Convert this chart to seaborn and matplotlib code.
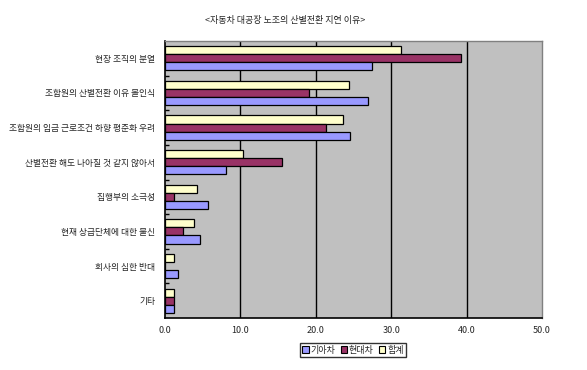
import matplotlib
matplotlib.use("Agg")
import matplotlib.pyplot as plt
from matplotlib.patches import Patch
from matplotlib.ticker import FixedLocator, FormatStrFormatter
import seaborn as sns
import pandas as pd

# reasons (top to bottom)
reasons = [
    "현장 조직의 분열",
    "조합원의 산별전환 이유 몰인식",
    "조합원의 임금 근로조건 하향 평준화 우려",
    "산별전환 해도 나아질 것 같지 않아서",
    "집행부의 소극성",
    "현재 상급단체에 대한 불신",
    "회사의 심한 반대",
    "기타",
]
total = [31.3, 24.4, 23.6, 10.4, 4.2, 3.8, 1.2, 1.2]
hyundai = [39.3, 19.1, 21.4, 15.5, 1.2, 2.4, 0.0, 1.2]
kia = [27.4, 26.9, 24.6, 8.1, 5.7, 4.6, 1.7, 1.2]

series = ["합계", "현대차", "기아차"]
colors = {"합계": "#FFFFCC", "현대차": "#993366", "기아차": "#9999FF"}

df = pd.DataFrame({
    "reason": reasons * 3,
    "series": ["합계"] * 8 + ["현대차"] * 8 + ["기아차"] * 8,
    "value": total + hyundai + kia,
})

sns.set_style("white")
plt.rcParams["font.family"] = ["Noto Sans CJK KR", "DejaVu Sans"]

fig = plt.figure(figsize=(5.87, 3.70), dpi=100)
ax = fig.add_axes([165 / 587, 1 - 318 / 370, (542 - 165) / 587, (318 - 41) / 370])
ax.set_facecolor("#C0C0C0")

sns.barplot(data=df, y="reason", x="value", hue="series", hue_order=series,
            palette=colors, orient="h", width=0.7, edgecolor="black",
            linewidth=0.9, ax=ax, legend=False, saturation=1)

ax.set_xlim(0, 50)
ax.set_ylim(len(reasons) - 0.5, -0.5)
ax.set_xticks([0, 10, 20, 30, 40, 50])
ax.xaxis.set_major_formatter(FormatStrFormatter("%.1f"))
for x in [10, 20, 30, 40]:
    ax.axvline(x, color="black", linewidth=1, zorder=0.5)

# small inward ticks between the reason groups
ax.yaxis.set_minor_locator(FixedLocator([i + 0.5 for i in range(len(reasons) - 1)]))
ax.tick_params(axis="y", which="major", length=0, pad=7, labelsize=6.3)
ax.tick_params(axis="y", which="minor", length=3, width=1, color="black",
               left=True, direction="in")
ax.tick_params(axis="x", length=0, pad=6, labelsize=6.5)
ax.set_xlabel("")
ax.set_ylabel("")

for side in ["left", "bottom"]:
    ax.spines[side].set_color("black")
    ax.spines[side].set_linewidth(1.2)
for side in ["top", "right"]:
    ax.spines[side].set_color("#808080")
    ax.spines[side].set_linewidth(1)

fig.text(0.485, 1 - 20 / 370, "<자동차 대공장 노조의 산별전환 지연 이유>",
         ha="center", va="center", fontsize=6.5)

handles = [Patch(facecolor=colors[s], edgecolor="black", linewidth=0.8)
           for s in ["기아차", "현대차", "합계"]]
fig.legend(handles, ["기아차", "현대차", "합계"], loc="center",
           bbox_to_anchor=(353 / 587, 1 - 350 / 370), ncol=3, fontsize=6.5,
           frameon=True, fancybox=False, edgecolor="black", handlelength=0.7,
           handleheight=0.7, handletextpad=0.2, columnspacing=0.6,
           borderpad=0.25, borderaxespad=0)

fig.savefig("out.png", dpi=100, facecolor="white")
